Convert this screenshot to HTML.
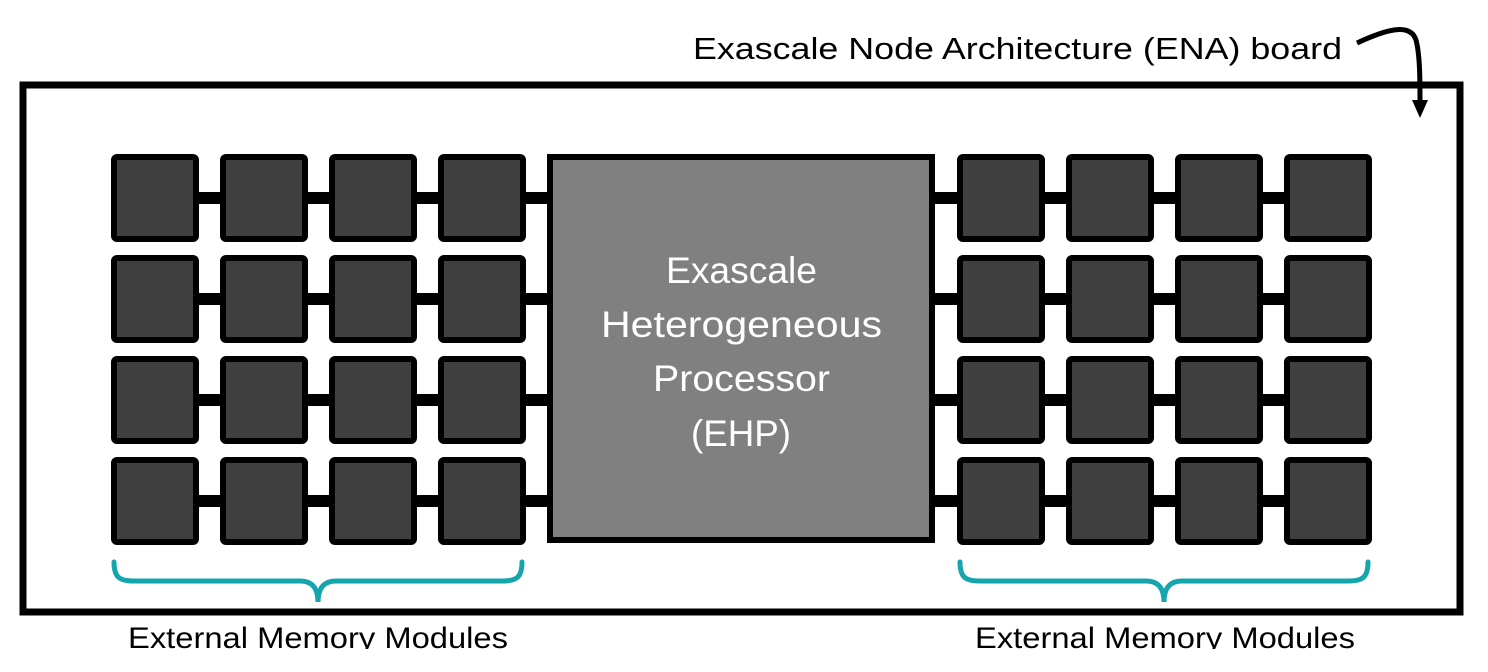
<!DOCTYPE html>
<html><head><style>html,body{margin:0;padding:0;background:#fff}svg{display:block}</style></head>
<body>
<svg width="1488" height="672" viewBox="0 0 1488 672" xmlns="http://www.w3.org/2000/svg" font-family="Liberation Sans, sans-serif">
<rect x="0" y="0" width="1488" height="672" fill="#fff"/>
<rect x="23" y="85" width="1437" height="527" fill="none" stroke="#000" stroke-width="7"/>
<text x="693" y="59" font-size="31" fill="#000" textLength="649" lengthAdjust="spacingAndGlyphs">Exascale Node Architecture (ENA) board</text>
<path d="M1357,43 C1385,30 1410,22 1416,40 C1420,55 1420,80 1420,103" fill="none" stroke="#000" stroke-width="5"/>
<polygon points="1412,100 1428,100 1420,118" fill="#000"/>
<g fill="#000">
<rect x="190" y="192" width="770" height="12"/><rect x="190" y="293" width="770" height="12"/>
<rect x="190" y="394" width="770" height="12"/><rect x="190" y="495" width="770" height="12"/>
<rect x="935" y="192" width="360" height="12"/><rect x="935" y="293" width="360" height="12"/>
<rect x="935" y="394" width="360" height="12"/><rect x="935" y="495" width="360" height="12"/>
</g>
<g fill="#404040" stroke="#000" stroke-width="6">
<g id="row">
<rect x="114" y="157" width="82" height="82" rx="3"/><rect x="223" y="157" width="82" height="82" rx="3"/>
<rect x="332" y="157" width="82" height="82" rx="3"/><rect x="441" y="157" width="82" height="82" rx="3"/>
<rect x="960" y="157" width="82" height="82" rx="3"/><rect x="1069" y="157" width="82" height="82" rx="3"/>
<rect x="1178" y="157" width="82" height="82" rx="3"/><rect x="1287" y="157" width="82" height="82" rx="3"/>
</g>
<use href="#row" y="101"/><use href="#row" y="202"/><use href="#row" y="303"/>
</g>
<rect x="550" y="157" width="382" height="383" fill="#808080" stroke="#000" stroke-width="6"/>
<g font-size="37" fill="#fff">
<text x="666" y="283" textLength="151" lengthAdjust="spacingAndGlyphs">Exascale</text>
<text x="601" y="337" textLength="281" lengthAdjust="spacingAndGlyphs">Heterogeneous</text>
<text x="653" y="391" textLength="177" lengthAdjust="spacingAndGlyphs">Processor</text>
<text x="691" y="446" textLength="100" lengthAdjust="spacingAndGlyphs">(EHP)</text>
</g>
<g fill="none" stroke="#14a5ad" stroke-width="5" stroke-linecap="round">
<path d="M114,562 C114,578 120,581 134,581 L300,581 C312,581 318,588 318,602 C318,588 324,581 336,581 L502,581 C516,581 522,578 522,562"/>
<path d="M960,562 C960,578 966,581 980,581 L1146,581 C1158,581 1164,588 1164,602 C1164,588 1170,581 1182,581 L1348,581 C1362,581 1368,578 1368,562"/>
</g>
<g font-size="30" fill="#000">
<text x="128" y="648" textLength="380" lengthAdjust="spacingAndGlyphs">External Memory Modules</text>
<text x="975" y="648" textLength="380" lengthAdjust="spacingAndGlyphs">External Memory Modules</text>
</g>
<rect x="0" y="649" width="1488" height="23" fill="#fff"/>
</svg>
</body></html>
